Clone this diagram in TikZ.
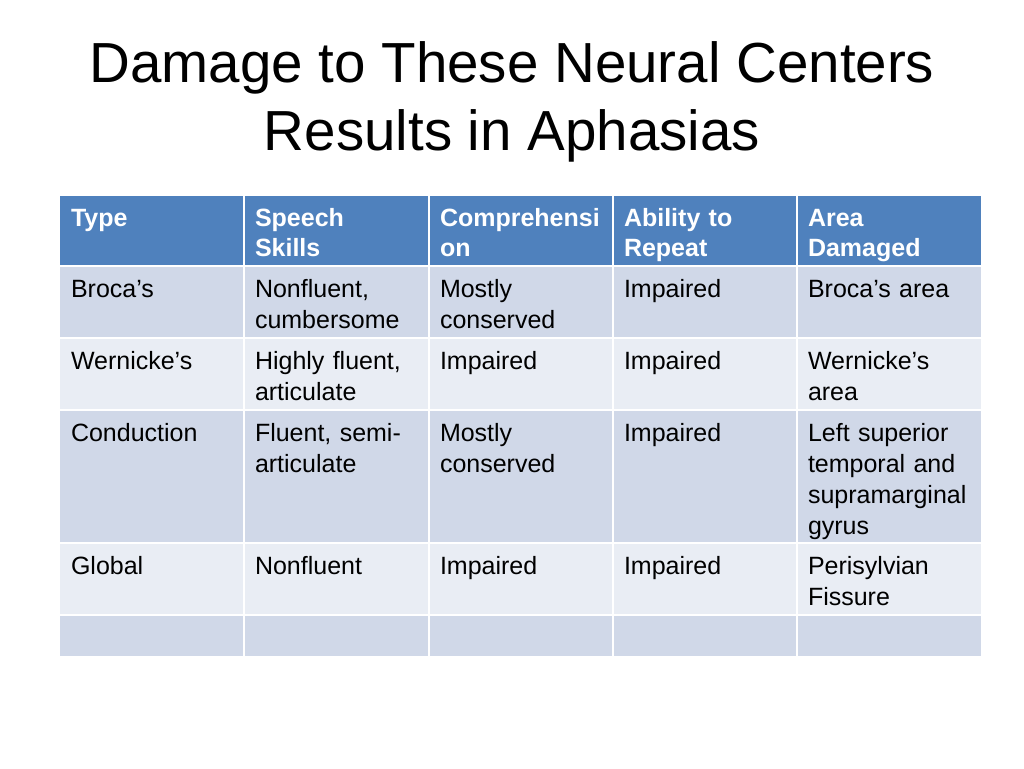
\documentclass[tikz,border=0pt]{standalone}
\usepackage{fontspec}
\setmainfont{Liberation Sans}
\usepackage{tikz}
\usetikzlibrary{positioning}

\definecolor{headblue}{HTML}{4F81BD}
\definecolor{rowdark}{HTML}{D0D8E8}
\definecolor{rowlight}{HTML}{E9EDF4}

\begin{document}
\begin{tikzpicture}[x=1pt,y=-1pt,font=\fontsize{25}{31}\selectfont]
\tikzset{every node/.style={inner sep=0pt, outer sep=0pt}}

\tikzstyle{title}=[anchor=base, font=\fontsize{56.5}{68}\selectfont]
\tikzstyle{head}=[anchor=base west, text width=170pt, align=left, text=white, font=\fontsize{25}{30}\selectfont\bfseries]
\tikzstyle{cell}=[anchor=base west, text width=170pt, align=left, text=black]
\tikzstyle{grid line}=[white, line width=1.6pt]

\useasboundingbox (0,0) rectangle (1024,768);

\node[title] (title top) at (512,82) {Damage to These Neural Centers};
\node[title] (title bottom) at (512,150) {Results in Aphasias};

% cell backgrounds
\fill[headblue] (60,196) rectangle (981,266);
\foreach \top/\bot/\shade in {266/338/rowdark, 338/410/rowlight, 410/543/rowdark, 543/615/rowlight, 615/656/rowdark} {
    \fill[\shade] (60,\top) rectangle (981,\bot);
};

% white rules
\foreach \x in {244, 429, 613, 797} {
    \draw[grid line] (\x,196) -- (\x,656);
};
\foreach \y in {266, 338, 410, 543, 615} {
    \draw[grid line] (60,\y) -- (981,\y);
};

\node[head] (type head) at (71,226) {Type};
\node[head] (speech head) at (255,226) {Speech\\Skills};
\node[head] (comprehension head) at (440,226) {Comprehensi\\on};
\node[head] (repeat head) at (624,226) {Ability to\\Repeat};
\node[head] (area head) at (808,226) {Area\\Damaged};

\node[cell] (broca type) at (71,297) {Broca’s};
\node[cell] (broca speech) at (255,297) {Nonfluent,\\cumbersome};
\node[cell] (broca comprehension) at (440,297) {Mostly\\conserved};
\node[cell] (broca repeat) at (624,297) {Impaired};
\node[cell] (broca area) at (808,297) {Broca’s area};

\node[cell] (wernicke type) at (71,369) {Wernicke’s};
\node[cell] (wernicke speech) at (255,369) {Highly fluent,\\articulate};
\node[cell] (wernicke comprehension) at (440,369) {Impaired};
\node[cell] (wernicke repeat) at (624,369) {Impaired};
\node[cell] (wernicke area) at (808,369) {Wernicke’s\\area};

\node[cell] (conduction type) at (71,441) {Conduction};
\node[cell] (conduction speech) at (255,441) {Fluent, semi-\\articulate};
\node[cell] (conduction comprehension) at (440,441) {Mostly\\conserved};
\node[cell] (conduction repeat) at (624,441) {Impaired};
\node[cell] (conduction area) at (808,441) {Left superior\\temporal and\\supramarginal\\gyrus};

\node[cell] (global type) at (71,574) {Global};
\node[cell] (global speech) at (255,574) {Nonfluent};
\node[cell] (global comprehension) at (440,574) {Impaired};
\node[cell] (global repeat) at (624,574) {Impaired};
\node[cell] (global area) at (808,574) {Perisylvian\\Fissure};

\end{tikzpicture}
\end{document}
